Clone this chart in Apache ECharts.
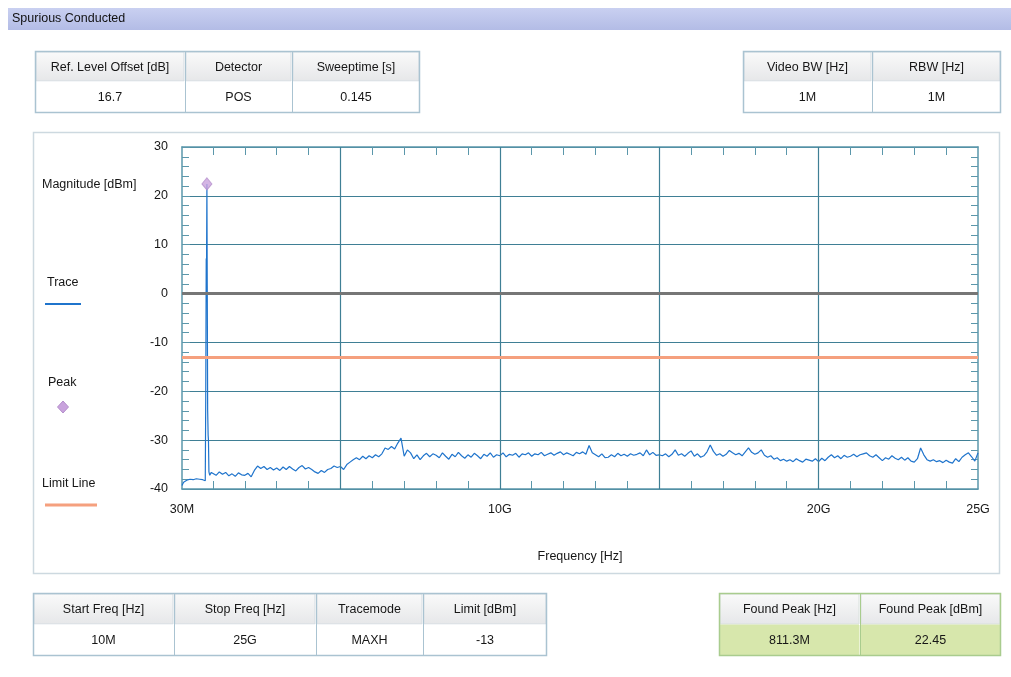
<!DOCTYPE html>
<html>
<head>
<meta charset="utf-8">
<title>Spurious Conducted</title>
<script src="https://cdn.jsdelivr.net/npm/echarts@6/dist/echarts.min.js"></script>
<style>
  html, body { margin: 0; padding: 0; background: #ffffff; }
  #chart { width: 1011px; height: 677px; }
</style>
</head>
<body>
<div id="chart"></div>
<script>
// ---- Measurement settings tables ----
const topLeftHeaders = ['Ref. Level Offset [dB]', 'Detector', 'Sweeptime [s]'];
const topLeftValues = ['16.7', 'POS', '0.145'];
const topRightHeaders = ['Video BW [Hz]', 'RBW [Hz]'];
const topRightValues = ['1M', '1M'];
const bottomLeftHeaders = ['Start Freq [Hz]', 'Stop Freq [Hz]', 'Tracemode', 'Limit [dBm]'];
const bottomLeftValues = ['10M', '25G', 'MAXH', '-13'];
const peakHeaders = ['Found Peak [Hz]', 'Found Peak [dBm]'];
const peakValues = ['811.3M', '22.45'];

// ---- Axes ----
const freqMinGHz = 0.03;
const freqMaxGHz = 25;
const freqLabelValues = [0.03, 10, 20, 25];
const freqLabelTexts = ['30M', '10G', '20G', '25G'];
const freqGridGHz = [5, 10, 15, 20];
const freqMinorTicksGHz = [1, 2, 3, 4, 5, 6, 7, 8, 9, 10, 11, 12, 13, 14, 15, 16, 17, 18, 19, 20, 21, 22, 23, 24];
const levelMin = -40;
const levelMax = 30;
const levelStep = 10;
const limitDbm = -13;

// ---- Trace (max hold), low band around the carrier, explicit frequencies ----
const traceLowGHz = [0.03, 0.08, 0.13, 0.18, 0.23, 0.28, 0.33, 0.38, 0.43, 0.48, 0.53, 0.58, 0.63, 0.68, 0.72, 0.76,
  0.775, 0.79, 0.80, 0.8113, 0.822, 0.835, 0.85, 0.86, 0.875, 0.90, 0.95];
const traceLowDbm = [-39.3, -38.6, -38.9, -38.2, -38.5, -38.0, -38.3, -38.1, -38.4, -37.9, -38.2, -38.0, -37.6, -38.1, -37.8, -38.3,
  -21.0, 7.2, 6.5, 22.45, 1.5, -24.0, -29.0, -30.0, -36.5, -37.2, -36.6];

// ---- Trace above 1 GHz, one sample every 100 MHz ----
const floorStartGHz = 1.0;
const floorStepGHz = 0.1;
const floorDbm = [
  -36.8, -37.2, -36.5, -37.0, -36.6, -37.3, -36.9, -37.4, -36.7, -37.1,   // 1 GHz
  -37.2, -36.8, -37.5, -36.2, -35.3, -35.8, -35.4, -36.0, -35.6, -36.1,   // 2 GHz
  -35.7, -36.2, -35.5, -36.0, -35.4, -35.9, -36.3, -35.6, -35.2, -35.9,   // 3 GHz
  -35.6, -36.0, -36.5, -36.8, -36.2, -36.6, -36.0, -35.8, -35.3, -35.6,   // 4 GHz
  -35.4, -36.0, -35.0, -34.5, -34.0, -33.6, -34.0, -33.3, -33.8, -33.2,   // 5 GHz
  -33.6, -33.0, -33.4, -32.8, -31.6, -31.9, -31.3, -31.8, -30.6, -29.6,   // 6 GHz
  -33.3, -32.0, -32.6, -33.8, -33.0, -34.0, -33.2, -32.7, -33.4, -32.8,   // 7 GHz
  -33.1, -33.6, -32.6, -33.3, -33.9, -32.9, -33.4, -32.5, -33.2, -33.7,   // 8 GHz
  -33.0, -33.5, -32.7, -33.2, -33.8, -32.9, -33.3, -32.6, -33.5, -33.0,   // 9 GHz
  -33.2, -32.6, -33.4, -32.9, -33.1, -32.7, -33.5, -32.8, -33.0, -32.6,   // 10 GHz
  -33.3, -32.8, -33.0, -32.5, -33.2, -32.9, -32.6, -33.1, -32.7, -32.4,   // 11 GHz
  -33.0, -32.6, -32.9, -33.2, -32.5, -32.8, -32.4, -32.9, -31.1, -32.6,   // 12 GHz
  -33.0, -33.4, -32.8, -33.6, -33.5, -33.0, -33.4, -32.7, -33.2, -32.9,   // 13 GHz
  -33.3, -32.8, -33.1, -32.9, -32.6, -33.2, -32.0, -33.0, -32.5, -33.1,   // 14 GHz
  -33.0, -33.2, -32.8, -33.4, -32.9, -32.0, -33.1, -32.8, -33.3, -32.7,   // 15 GHz
  -32.2, -33.3, -32.8, -33.5, -33.2, -32.4, -31.0, -32.3, -33.1, -32.8,   // 16 GHz
  -33.3, -32.9, -32.1, -32.6, -33.0, -32.7, -33.2, -32.4, -31.6, -32.5,   // 17 GHz
  -32.9, -32.6, -32.0, -33.1, -33.5, -33.2, -33.9, -33.6, -34.2, -33.9,   // 18 GHz
  -34.3, -34.0, -34.4, -33.8, -34.2, -34.5, -33.9, -34.1, -34.3, -33.8,   // 19 GHz
  -34.4, -33.7, -34.2, -33.5, -33.0, -33.6, -33.2, -33.8, -33.1, -33.5,   // 20 GHz
  -33.3, -32.9, -33.4, -33.0, -32.8, -32.6, -33.2, -33.5, -33.0, -33.6,   // 21 GHz
  -34.2, -33.6, -33.9, -33.2, -33.7, -34.0, -33.5, -34.1, -33.6, -34.3,   // 22 GHz
  -34.5, -33.8, -31.6, -33.0, -34.0, -34.3, -34.0, -34.4, -34.2, -34.6,   // 23 GHz
  -34.1, -34.5, -34.7, -33.8, -34.4, -33.5, -33.0, -32.6, -33.4, -34.3,   // 24 GHz
  -32.6                                                                     // 25 GHz
];

// ---- Marker found by the peak search ----
const peakFreqGHz = 0.8113;
const peakDbm = 22.45;

// Assemble [frequency, level] pairs for the trace
const tracePoints = [];
traceLowGHz.forEach((f, i) => tracePoints.push([f, traceLowDbm[i]]));
floorDbm.forEach((v, i) => tracePoints.push([+(floorStartGHz + i * floorStepGHz).toFixed(2), v]));

// ---- Styling ----
const FONT = '"Liberation Sans", Arial, sans-serif';
const FS = 12.5;
const TEXT = '#161616';
const AXIS_COLOR = '#5b97ab';
const GRID_COLOR = '#3f7f95';
const TRACE_COLOR = '#1f74cc';
const LIMIT_COLOR = '#f5a07e';
const ZERO_COLOR = '#767676';
const PEAK_COLOR = '#c9a3dd';

const GRID = { left: 182, top: 147, width: 796, height: 342 };

function font(size, weight) {
  return (weight || 'normal') + ' ' + size + 'px ' + FONT;
}

// Builds graphic elements for a header/value table
function table(colEdges, top, headH, rowH, headers, values, opts) {
  const els = [];
  const left = colEdges[0];
  const right = colEdges[colEdges.length - 1];
  const border = opts.border;
  for (let i = 0; i < headers.length; i++) {
    const x0 = colEdges[i], x1 = colEdges[i + 1];
    els.push({
      type: 'rect', shape: { x: x0 + 1, y: top + 1, width: x1 - x0 - 2, height: headH - 2 },
      style: {
        fill: { type: 'linear', x: 0, y: 0, x2: 0, y2: 1,
          colorStops: [{ offset: 0, color: '#fafafa' }, { offset: 1, color: '#e6e7e9' }] },
        stroke: opts.innerBorder, lineWidth: 1
      }, z: 1
    });
    els.push({
      type: 'rect', shape: { x: x0 + 1, y: top + headH, width: x1 - x0 - 2, height: rowH - 1 },
      style: { fill: opts.valueFill, stroke: opts.valueStroke, lineWidth: 1 }, z: 1
    });
    els.push({
      type: 'text', x: (x0 + x1) / 2, y: top + headH / 2 + 1,
      style: { text: headers[i], font: font(FS), fill: TEXT, align: 'center', verticalAlign: 'middle' }, z: 3
    });
    els.push({
      type: 'text', x: (x0 + x1) / 2, y: top + headH + rowH / 2,
      style: { text: values[i], font: font(FS), fill: TEXT, align: 'center', verticalAlign: 'middle' }, z: 3
    });
    if (i > 0) {
      els.push({
        type: 'line', shape: { x1: x0 + 0.5, y1: top, x2: x0 + 0.5, y2: top + headH + rowH },
        style: { stroke: border, lineWidth: 1 }, z: 2
      });
    }
  }
  els.push({
    type: 'rect', shape: { x: left + 0.5, y: top + 0.5, width: right - left - 1, height: headH + rowH - 1 },
    style: { fill: null, stroke: border, lineWidth: 1.5 }, z: 2
  });
  return els;
}

const graphics = [];

// Title bar
graphics.push({
  type: 'rect', shape: { x: 8, y: 8, width: 1003, height: 22 },
  style: { fill: { type: 'linear', x: 0, y: 0, x2: 0, y2: 1,
    colorStops: [{ offset: 0, color: '#c9d0f1' }, { offset: 1, color: '#b3bce6' }] } }, z: 0
});
graphics.push({
  type: 'text', x: 12, y: 19,
  style: { text: 'Spurious Conducted', font: font(FS), fill: '#111111', verticalAlign: 'middle' }, z: 3
});

// Chart panel frame
graphics.push({
  type: 'rect', shape: { x: 33.5, y: 132.5, width: 966, height: 441 },
  style: { fill: null, stroke: '#cdd9e0', lineWidth: 1.5 }, z: 0
});

const plainTable = { border: '#aac3d1', innerBorder: '#d5dde3', valueFill: '#ffffff', valueStroke: '#ffffff' };
const peakTable = { border: '#a9cc8e', innerBorder: '#d8e0dc', valueFill: '#d7e7ac', valueStroke: '#d7e7ac' };

graphics.push(...table([35, 185, 292, 420], 51, 31, 31, topLeftHeaders, topLeftValues, plainTable));
graphics.push(...table([743, 872, 1001], 51, 31, 31, topRightHeaders, topRightValues, plainTable));
graphics.push(...table([33, 174, 316, 423, 547], 593, 32, 31, bottomLeftHeaders, bottomLeftValues, plainTable));
graphics.push(...table([719, 860, 1001], 593, 32, 31, peakHeaders, peakValues, peakTable));

// Axis caption and legend
graphics.push({ type: 'text', x: 42, y: 185, style: { text: 'Magnitude [dBm]', font: font(FS), fill: TEXT, verticalAlign: 'middle' }, z: 3 });
graphics.push({ type: 'text', x: 47, y: 283, style: { text: 'Trace', font: font(FS), fill: TEXT, verticalAlign: 'middle' }, z: 3 });
graphics.push({ type: 'line', shape: { x1: 45, y1: 304, x2: 81, y2: 304 }, style: { stroke: TRACE_COLOR, lineWidth: 2 }, z: 3 });
graphics.push({ type: 'text', x: 48, y: 383, style: { text: 'Peak', font: font(FS), fill: TEXT, verticalAlign: 'middle' }, z: 3 });
graphics.push({ type: 'polygon', shape: { points: [[63, 401], [68.5, 407], [63, 413], [57.5, 407]] },
  style: { fill: PEAK_COLOR, stroke: '#b58fcc', lineWidth: 1 }, z: 3 });
graphics.push({ type: 'text', x: 42, y: 484, style: { text: 'Limit Line', font: font(FS), fill: TEXT, verticalAlign: 'middle' }, z: 3 });
graphics.push({ type: 'line', shape: { x1: 45, y1: 505, x2: 97, y2: 505 }, style: { stroke: LIMIT_COLOR, lineWidth: 3 }, z: 3 });

const chart = echarts.init(document.getElementById('chart'), null, { renderer: 'canvas' });

const xCommon = {
  type: 'value', min: freqMinGHz, max: freqMaxGHz,
  axisLine: { show: true, onZero: false, lineStyle: { color: AXIS_COLOR, width: 1.5 } },
  axisTick: { show: true, inside: true, length: 8, customValues: freqMinorTicksGHz, lineStyle: { color: AXIS_COLOR, width: 1 } },
  splitLine: { show: false }
};
const yCommon = {
  type: 'value', min: levelMin, max: levelMax, interval: levelStep,
  axisLine: { show: true, onZero: false, lineStyle: { color: AXIS_COLOR, width: 1.5 } },
  axisTick: { show: true, inside: true, length: 8, lineStyle: { color: AXIS_COLOR } },
  minorTick: { show: true, splitNumber: 5, length: 7, lineStyle: { color: AXIS_COLOR } },
  minorSplitLine: { show: false }
};

chart.setOption({
  animation: false,
  backgroundColor: '#ffffff',
  grid: { left: GRID.left, top: GRID.top, width: GRID.width, height: GRID.height, containLabel: false },
  graphic: { elements: graphics },
  xAxis: [
    Object.assign({}, xCommon, {
      position: 'bottom',
      name: 'Frequency [Hz]', nameLocation: 'middle', nameGap: 61,
      nameTextStyle: { fontFamily: FONT, fontSize: FS, color: TEXT },
      axisLabel: {
        show: true, customValues: freqLabelValues, margin: 14,
        fontFamily: FONT, fontSize: FS, color: TEXT,
        formatter: v => {
          const i = freqLabelValues.findIndex(t => Math.abs(t - v) < 1e-6);
          return i >= 0 ? freqLabelTexts[i] : '';
        }
      }
    }),
    Object.assign({}, xCommon, { position: 'top', axisLabel: { show: false } })
  ],
  yAxis: [
    Object.assign({}, yCommon, {
      position: 'left',
      axisLabel: { show: true, margin: 14, fontFamily: FONT, fontSize: FS, color: TEXT },
      splitLine: { show: true, lineStyle: { color: GRID_COLOR, width: 1.2 } }
    }),
    Object.assign({}, yCommon, { position: 'right', axisLabel: { show: false }, splitLine: { show: false } })
  ],
  series: [
    {
      // reference lines: frequency grid, 0 dBm line, limit line
      type: 'line', xAxisIndex: 0, yAxisIndex: 0, z: 1,
      data: [[freqMinGHz, levelMin]], symbol: 'none', lineStyle: { opacity: 0 },
      silent: true,
      markLine: {
        symbol: 'none', silent: true, animation: false,
        label: { show: false },
        data: [
          ...freqGridGHz.map(f => ({ xAxis: f, lineStyle: { color: GRID_COLOR, width: 1.2, type: 'solid' } })),
          { yAxis: 0, lineStyle: { color: ZERO_COLOR, width: 3, type: 'solid' } },
          { yAxis: limitDbm, lineStyle: { color: LIMIT_COLOR, width: 3, type: 'solid' } }
        ]
      }
    },
    {
      name: 'Trace', type: 'line', xAxisIndex: 0, yAxisIndex: 0, z: 3,
      data: tracePoints, symbol: 'none', showSymbol: false,
      lineStyle: { color: TRACE_COLOR, width: 1.2 }
    },
    {
      name: 'Peak', type: 'scatter', xAxisIndex: 0, yAxisIndex: 0, z: 4,
      data: [[peakFreqGHz, peakDbm]], symbol: 'diamond', symbolSize: [10, 12],
      itemStyle: { color: PEAK_COLOR, borderColor: '#b58fcc', borderWidth: 1 }
    }
  ]
});
</script>
</body>
</html>
